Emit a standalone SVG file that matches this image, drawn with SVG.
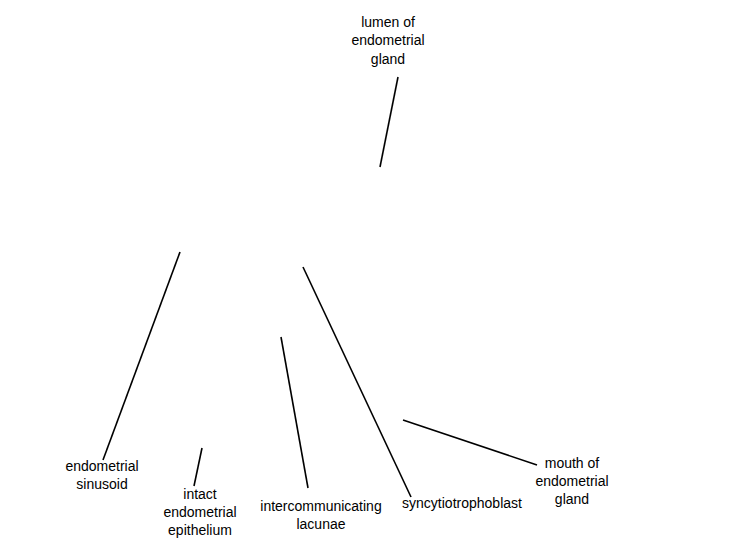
<svg xmlns="http://www.w3.org/2000/svg" width="750" height="550" viewBox="0 0 750 550">
<style>
.lbl{font-family:"Liberation Sans",Arial,sans-serif;font-size:14px;fill:#000;text-anchor:middle}
.ln{stroke:#000;stroke-width:1.6;fill:none}
</style>
<rect width="750" height="550" fill="#fff"/>
<g id="connectors">
<line class="ln" x1="398" y1="77" x2="380" y2="167"/>
<line class="ln" x1="180" y1="252" x2="103" y2="460"/>
<line class="ln" x1="202" y1="448" x2="194" y2="486"/>
<line class="ln" x1="281" y1="337" x2="308" y2="488"/>
<line class="ln" x1="303" y1="267" x2="411" y2="497"/>
<line class="ln" x1="403" y1="420" x2="537" y2="465"/>
</g>
<g id="lumen"><text class="lbl" x="388"><tspan x="388" y="27">lumen of</tspan><tspan x="388" y="45">endometrial</tspan><tspan x="388" y="64">gland</tspan></text></g>
<g id="sinusoid"><text class="lbl"><tspan x="102" y="471">endometrial</tspan><tspan x="102" y="489">sinusoid</tspan></text></g>
<g id="epithelium"><text class="lbl"><tspan x="200" y="499">intact</tspan><tspan x="200" y="517">endometrial</tspan><tspan x="200" y="535">epithelium</tspan></text></g>
<g id="lacunae"><text class="lbl"><tspan x="321" y="511">intercommunicating</tspan><tspan x="321" y="529">lacunae</tspan></text></g>
<g id="syncytio"><text class="lbl"><tspan x="462" y="508">syncytiotrophoblast</tspan></text></g>
<g id="mouth"><text class="lbl"><tspan x="572" y="468">mouth of</tspan><tspan x="572" y="486">endometrial</tspan><tspan x="572" y="504">gland</tspan></text></g>
</svg>
